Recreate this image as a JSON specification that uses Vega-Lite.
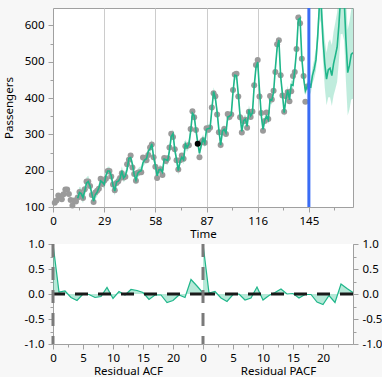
{
  "$schema": "https://vega.github.io/schema/vega-lite/v6.json",
  "background": "#f7f7f7",
  "padding": {"left": 2, "top": 6, "right": 0, "bottom": 0},
  "config": {
    "font": "Noto Sans",
    "view": {"stroke": null},
    "axis": {
      "labelFont": "Noto Sans", "labelFontSize": 11.5, "labelColor": "#000000",
      "titleFont": "Noto Sans", "titleFontSize": 11.5, "titleFontWeight": "normal", "titleColor": "#000000",
      "domainColor": "#a0a0a0", "tickColor": "#a0a0a0", "grid": false,
      "labelOverlap": false, "labelFlush": false
    }
  },
  "datasets": {
    "obs": [
      {"t":1,"y":112},{"t":2,"y":118},{"t":3,"y":132},{"t":4,"y":129},{"t":5,"y":121},{"t":6,"y":135},{"t":7,"y":148},{"t":8,"y":148},{"t":9,"y":136},{"t":10,"y":119},{"t":11,"y":104},{"t":12,"y":118},
      {"t":13,"y":115},{"t":14,"y":126},{"t":15,"y":141},{"t":16,"y":135},{"t":17,"y":125},{"t":18,"y":149},{"t":19,"y":170},{"t":20,"y":170},{"t":21,"y":158},{"t":22,"y":133},{"t":23,"y":114},{"t":24,"y":140},
      {"t":25,"y":145},{"t":26,"y":150},{"t":27,"y":178},{"t":28,"y":163},{"t":29,"y":172},{"t":30,"y":178},{"t":31,"y":199},{"t":32,"y":199},{"t":33,"y":184},{"t":34,"y":162},{"t":35,"y":146},{"t":36,"y":166},
      {"t":37,"y":171},{"t":38,"y":180},{"t":39,"y":193},{"t":40,"y":181},{"t":41,"y":183},{"t":42,"y":218},{"t":43,"y":230},{"t":44,"y":242},{"t":45,"y":209},{"t":46,"y":191},{"t":47,"y":172},{"t":48,"y":194},
      {"t":49,"y":196},{"t":50,"y":196},{"t":51,"y":236},{"t":52,"y":235},{"t":53,"y":229},{"t":54,"y":243},{"t":55,"y":264},{"t":56,"y":272},{"t":57,"y":237},{"t":58,"y":211},{"t":59,"y":180},{"t":60,"y":201},
      {"t":61,"y":204},{"t":62,"y":188},{"t":63,"y":235},{"t":64,"y":227},{"t":65,"y":234},{"t":66,"y":264},{"t":67,"y":302},{"t":68,"y":293},{"t":69,"y":259},{"t":70,"y":229},{"t":71,"y":203},{"t":72,"y":229},
      {"t":73,"y":242},{"t":74,"y":233},{"t":75,"y":267},{"t":76,"y":269},{"t":77,"y":270},{"t":78,"y":315},{"t":79,"y":364},{"t":80,"y":347},{"t":81,"y":312},{"t":83,"y":237},{"t":84,"y":278},
      {"t":85,"y":284},{"t":86,"y":277},{"t":87,"y":317},{"t":88,"y":313},{"t":89,"y":318},{"t":90,"y":374},{"t":91,"y":413},{"t":92,"y":405},{"t":93,"y":355},{"t":94,"y":306},{"t":95,"y":271},{"t":96,"y":306},
      {"t":97,"y":315},{"t":98,"y":301},{"t":99,"y":356},{"t":100,"y":348},{"t":101,"y":355},{"t":102,"y":422},{"t":103,"y":465},{"t":104,"y":467},{"t":105,"y":404},{"t":106,"y":347},{"t":107,"y":305},{"t":108,"y":336},
      {"t":109,"y":340},{"t":110,"y":318},{"t":111,"y":362},{"t":112,"y":348},{"t":113,"y":363},{"t":114,"y":435},{"t":115,"y":491},{"t":116,"y":505},{"t":117,"y":404},{"t":118,"y":359},{"t":119,"y":310},{"t":120,"y":337},
      {"t":121,"y":360},{"t":122,"y":342},{"t":123,"y":406},{"t":124,"y":396},{"t":125,"y":420},{"t":126,"y":472},{"t":127,"y":548},{"t":128,"y":559},{"t":129,"y":463},{"t":130,"y":407},{"t":131,"y":362},{"t":132,"y":405},
      {"t":133,"y":417},{"t":134,"y":391},{"t":135,"y":419},{"t":136,"y":461},{"t":137,"y":472},{"t":138,"y":535},{"t":139,"y":622},{"t":140,"y":606},{"t":141,"y":508},{"t":142,"y":461},{"t":143,"y":390},{"t":144,"y":432}
    ],
    "hl": [{"t":82,"y":274}],
    "fit": [
      {"t":14,"f":124,"lo":108,"hi":140},{"t":15,"f":140,"lo":124,"hi":156},{"t":16,"f":137,"lo":121,"hi":153},{"t":17,"f":126,"lo":110,"hi":142},{"t":18,"f":144,"lo":128,"hi":160},{"t":19,"f":166,"lo":150,"hi":182},{"t":20,"f":170,"lo":154,"hi":186},
      {"t":21,"f":158,"lo":146,"hi":170},{"t":22,"f":137,"lo":125,"hi":149},{"t":23,"f":116,"lo":104,"hi":128},{"t":24,"f":134,"lo":122,"hi":146},{"t":25,"f":141,"lo":129,"hi":153},{"t":26,"f":153,"lo":141,"hi":165},
      {"t":27,"f":172,"lo":160,"hi":184},{"t":28,"f":168,"lo":156,"hi":180},{"t":29,"f":162,"lo":150,"hi":174},{"t":30,"f":187,"lo":175,"hi":199},{"t":31,"f":199,"lo":187,"hi":211},{"t":32,"f":199,"lo":187,"hi":211},
      {"t":33,"f":186,"lo":174,"hi":198},{"t":34,"f":160,"lo":148,"hi":172},{"t":35,"f":144,"lo":132,"hi":156},{"t":36,"f":169,"lo":157,"hi":181},{"t":37,"f":171,"lo":159,"hi":183},{"t":38,"f":178,"lo":166,"hi":190},
      {"t":39,"f":200,"lo":188,"hi":212},{"t":40,"f":180,"lo":168,"hi":192},{"t":41,"f":186,"lo":174,"hi":198},{"t":42,"f":204,"lo":192,"hi":216},{"t":43,"f":234,"lo":222,"hi":246},{"t":44,"f":236,"lo":224,"hi":248},
      {"t":45,"f":218,"lo":206,"hi":230},{"t":46,"f":189,"lo":177,"hi":201},{"t":47,"f":174,"lo":162,"hi":186},{"t":48,"f":193,"lo":181,"hi":205},{"t":49,"f":198,"lo":186,"hi":210},{"t":50,"f":200,"lo":188,"hi":212},
      {"t":51,"f":222,"lo":210,"hi":234},{"t":52,"f":230,"lo":218,"hi":242},{"t":53,"f":233,"lo":221,"hi":245},{"t":54,"f":254,"lo":242,"hi":266},{"t":55,"f":260,"lo":248,"hi":272},{"t":56,"f":274,"lo":262,"hi":286},
      {"t":57,"f":238,"lo":226,"hi":250},{"t":58,"f":215,"lo":203,"hi":227},{"t":59,"f":186,"lo":174,"hi":198},{"t":60,"f":202,"lo":190,"hi":214},{"t":61,"f":204,"lo":192,"hi":216},{"t":62,"f":196,"lo":184,"hi":208},
      {"t":63,"f":232,"lo":220,"hi":244},{"t":64,"f":230,"lo":218,"hi":242},{"t":65,"f":228,"lo":216,"hi":240},{"t":66,"f":256,"lo":244,"hi":268},{"t":67,"f":294,"lo":282,"hi":306},{"t":68,"f":302,"lo":290,"hi":314},
      {"t":69,"f":258,"lo":246,"hi":270},{"t":70,"f":231,"lo":219,"hi":243},{"t":71,"f":200,"lo":188,"hi":212},{"t":72,"f":226,"lo":214,"hi":238},{"t":73,"f":237,"lo":225,"hi":249},{"t":74,"f":230,"lo":218,"hi":242},
      {"t":75,"f":274,"lo":262,"hi":286},{"t":76,"f":264,"lo":252,"hi":276},{"t":77,"f":273,"lo":261,"hi":285},{"t":78,"f":308,"lo":296,"hi":320},{"t":79,"f":358,"lo":346,"hi":370},{"t":80,"f":351,"lo":339,"hi":363},
      {"t":81,"f":312,"lo":300,"hi":324},{"t":82,"f":278,"lo":266,"hi":290},{"t":83,"f":248,"lo":236,"hi":260},{"t":84,"f":270,"lo":258,"hi":282},{"t":85,"f":288,"lo":276,"hi":300},{"t":86,"f":276,"lo":264,"hi":288},
      {"t":87,"f":314,"lo":302,"hi":326},{"t":88,"f":316,"lo":304,"hi":328},{"t":89,"f":316,"lo":304,"hi":328},{"t":90,"f":368,"lo":356,"hi":380},{"t":91,"f":418,"lo":406,"hi":430},{"t":92,"f":400,"lo":388,"hi":412},
      {"t":93,"f":362,"lo":350,"hi":374},{"t":94,"f":312,"lo":300,"hi":324},{"t":95,"f":270,"lo":258,"hi":282},{"t":96,"f":309,"lo":297,"hi":321},{"t":97,"f":314,"lo":302,"hi":326},{"t":98,"f":304,"lo":292,"hi":316},
      {"t":99,"f":348,"lo":336,"hi":360},{"t":100,"f":350,"lo":338,"hi":362},{"t":101,"f":354,"lo":342,"hi":366},{"t":102,"f":416,"lo":404,"hi":428},{"t":103,"f":463,"lo":451,"hi":475},{"t":104,"f":462,"lo":450,"hi":474},
      {"t":105,"f":410,"lo":398,"hi":422},{"t":106,"f":351,"lo":339,"hi":363},{"t":107,"f":308,"lo":296,"hi":320},{"t":108,"f":338,"lo":326,"hi":350},{"t":109,"f":342,"lo":330,"hi":354},{"t":110,"f":322,"lo":310,"hi":334},
      {"t":111,"f":368,"lo":356,"hi":380},{"t":112,"f":351,"lo":339,"hi":363},{"t":113,"f":359,"lo":347,"hi":371},{"t":114,"f":432,"lo":420,"hi":444},{"t":115,"f":484,"lo":472,"hi":496},{"t":116,"f":499,"lo":487,"hi":511},
      {"t":117,"f":423,"lo":411,"hi":435},{"t":118,"f":353,"lo":341,"hi":365},{"t":119,"f":314,"lo":302,"hi":326},{"t":120,"f":339,"lo":327,"hi":351},{"t":121,"f":350,"lo":338,"hi":362},{"t":122,"f":340,"lo":328,"hi":352},
      {"t":123,"f":396,"lo":384,"hi":408},{"t":124,"f":394,"lo":382,"hi":406},{"t":125,"f":416,"lo":404,"hi":428},{"t":126,"f":482,"lo":470,"hi":494},{"t":127,"f":538,"lo":526,"hi":550},{"t":128,"f":560,"lo":548,"hi":572},
      {"t":129,"f":460,"lo":448,"hi":472},{"t":130,"f":412,"lo":400,"hi":424},{"t":131,"f":360,"lo":348,"hi":372},{"t":132,"f":397,"lo":385,"hi":409},{"t":133,"f":422,"lo":410,"hi":434},{"t":134,"f":395,"lo":383,"hi":407},
      {"t":135,"f":437,"lo":425,"hi":449},{"t":136,"f":435,"lo":423,"hi":447},{"t":137,"f":478,"lo":466,"hi":490},{"t":138,"f":530,"lo":518,"hi":542},{"t":139,"f":616,"lo":604,"hi":628},{"t":140,"f":620,"lo":608,"hi":632},
      {"t":141,"f":509,"lo":497,"hi":521},{"t":142,"f":456,"lo":444,"hi":468},{"t":143,"f":420,"lo":408,"hi":432},{"t":144,"f":432,"lo":420,"hi":444},
      {"t":145,"f":445,"lo":431,"hi":459},{"t":146,"f":428,"lo":410,"hi":446},{"t":147,"f":462,"lo":440,"hi":484},{"t":148,"f":480,"lo":454,"hi":506},{"t":149,"f":505,"lo":475,"hi":535},{"t":150,"f":570,"lo":534,"hi":606},
      {"t":151,"f":660,"lo":618,"hi":702},{"t":152,"f":655,"lo":605,"hi":705},{"t":153,"f":560,"lo":502,"hi":618},{"t":154,"f":495,"lo":429,"hi":561},{"t":155,"f":452,"lo":380,"hi":524},{"t":156,"f":478,"lo":402,"hi":554},
      {"t":157,"f":482,"lo":402,"hi":562},{"t":158,"f":462,"lo":378,"hi":546},{"t":159,"f":495,"lo":407,"hi":583},{"t":160,"f":517,"lo":425,"hi":609},{"t":161,"f":540,"lo":444,"hi":636},{"t":162,"f":600,"lo":500,"hi":700},
      {"t":163,"f":680,"lo":576,"hi":784},{"t":164,"f":685,"lo":577,"hi":793},{"t":165,"f":670,"lo":558,"hi":782},{"t":166,"f":560,"lo":445,"hi":675},{"t":167,"f":470,"lo":352,"hi":588},{"t":168,"f":490,"lo":369,"hi":611},
      {"t":169,"f":520,"lo":396,"hi":644},{"t":170,"f":525,"lo":398,"hi":652}
    ],
    "acf": [
      {"lag":0,"v":1.0},{"lag":1,"v":0.04},{"lag":2,"v":0.06},{"lag":3,"v":-0.07},{"lag":4,"v":-0.13},{"lag":5,"v":0.0},{"lag":6,"v":-0.01},{"lag":7,"v":-0.07},{"lag":8,"v":-0.05},{"lag":9,"v":0.13},{"lag":10,"v":-0.09},{"lag":11,"v":0.05},{"lag":12,"v":-0.02},
      {"lag":13,"v":0.09},{"lag":14,"v":0.07},{"lag":15,"v":0.03},{"lag":16,"v":-0.11},{"lag":17,"v":-0.02},{"lag":18,"v":-0.02},{"lag":19,"v":-0.17},{"lag":20,"v":-0.13},{"lag":21,"v":-0.02},{"lag":22,"v":-0.07},{"lag":23,"v":0.29},{"lag":24,"v":0.16},{"lag":25,"v":0.02}
    ],
    "pacf": [
      {"lag":0,"v":1.0},{"lag":1,"v":0.02},{"lag":2,"v":0.05},{"lag":3,"v":-0.08},{"lag":4,"v":-0.15},{"lag":5,"v":-0.01},{"lag":6,"v":0.0},{"lag":7,"v":-0.12},{"lag":8,"v":-0.08},{"lag":9,"v":0.14},{"lag":10,"v":-0.12},{"lag":11,"v":-0.03},{"lag":12,"v":0.03},
      {"lag":13,"v":0.10},{"lag":14,"v":0.0},{"lag":15,"v":0.01},{"lag":16,"v":-0.08},{"lag":17,"v":-0.01},{"lag":18,"v":-0.01},{"lag":19,"v":-0.16},{"lag":20,"v":-0.21},{"lag":21,"v":-0.03},{"lag":22,"v":-0.17},{"lag":23,"v":0.20},{"lag":24,"v":0.11},{"lag":25,"v":0.03}
    ],
    "zero": [{"z":0}],
    "origin": [{"t":145}]
  },
  "spacing": 37,
  "bounds": "flush",
  "vconcat": [
    {
      "width": 300,
      "height": 199,
      "view": {"fill": "#ffffff", "stroke": "#a0a0a0"},
      "resolve": {"axis": {"y": "independent"}},
      "encoding": {
        "x": {"field": "t", "type": "quantitative",
          "scale": {"domain": [0, 170], "nice": false, "zero": false},
          "axis": {
            "title": "Time", "domain": false, "labelOverlap": false,
            "values": [0, 14.5, 29, 43.5, 58, 72.5, 87, 101.5, 116, 130.5, 145, 159.5],
            "labelExpr": "datum.value % 29 === 0 ? format(datum.value, 'd') : ''",
            "tickSize": {"condition": {"test": "datum.value % 29 === 0", "value": 5}, "value": 3},
            "grid": true, "gridColor": "#cccccc",
            "gridOpacity": {"condition": {"test": "datum.value % 29 === 0 && datum.value > 0 && datum.value < 145", "value": 1}, "value": 0},
            "labelPadding": 3, "titlePadding": 2
          }
        }
      },
      "layer": [
        {
          "data": {"name": "fit"},
          "mark": {"type": "area", "color": "#2dbf8f", "opacity": 0.3, "clip": true},
          "encoding": {
            "y": {"field": "lo", "type": "quantitative",
              "scale": {"domain": [100, 648], "nice": false, "zero": false},
              "axis": {
                "title": "Passengers", "domain": false, "labelOverlap": false, "orient": "left",
                "values": [100, 200, 300, 400, 500, 600],
                "tickSize": 5,
                "labelPadding": 4, "titleX": -41, "titleBaseline": "alphabetic"
              }
            },
            "y2": {"field": "hi"}
          }
        },
        {
          "data": {"name": "obs"},
          "mark": {"type": "circle", "color": "#9a9a9a", "opacity": 1, "size": 36},
          "encoding": {"y": {"field": "y", "type": "quantitative",
            "axis": {"orient": "left", "title": null, "labels": false, "domain": false, "tickSize": 3,
              "values": [150, 250, 350, 450, 550]}}}
        },
        {
          "data": {"name": "fit"},
          "mark": {"type": "line", "color": "#1fb68a", "strokeWidth": 1.6, "clip": true},
          "encoding": {"y": {"field": "f", "type": "quantitative", "axis": null}}
        },
        {
          "data": {"name": "hl"},
          "mark": {"type": "circle", "color": "#000000", "opacity": 1, "size": 36},
          "encoding": {"y": {"field": "y", "type": "quantitative", "axis": null}}
        },
        {
          "data": {"name": "origin"},
          "mark": {"type": "rule", "color": "#3a6cf5", "strokeWidth": 3},
          "encoding": {}
        }
      ]
    },
    {
      "spacing": 0,
      "bounds": "flush",
      "hconcat": [
        {
          "width": 150,
          "height": 100,
          "view": {"fill": "#ffffff", "stroke": null},
          "resolve": {"axis": {"y": "independent"}},
          "encoding": {
            "x": {"field": "lag", "type": "quantitative",
              "scale": {"domain": [0, 25], "nice": false, "zero": false},
              "axis": {
                "title": "Residual ACF", "labelOverlap": false,
                "values": [0, 2.5, 5, 7.5, 10, 12.5, 15, 17.5, 20, 22.5],
                "labelExpr": "datum.value % 5 === 0 ? format(datum.value, 'd') : ''",
                "tickSize": {"condition": {"test": "datum.value % 5 === 0", "value": 5}, "value": 3},
                "labelPadding": 3, "titlePadding": 2
              }
            }
          },
          "layer": [
            {
              "data": {"name": "acf"},
              "mark": {"type": "area", "color": "#2dbf8f", "opacity": 0.35},
              "encoding": {
                "y": {"field": "v", "type": "quantitative",
                  "scale": {"domain": [-1, 1], "nice": false, "zero": false},
                  "axis": {
                    "title": null, "orient": "left", "labelOverlap": false,
                    "values": [-1, -0.5, 0, 0.5, 1],
                    "labelExpr": "replace(format(datum.value, '.1f'), '\u2212', '-')",
                    "tickSize": 5, "labelPadding": 4
                  }
                },
                "y2": {"datum": 0}
              }
            },
            {
              "data": {"name": "acf"},
              "mark": {"type": "line", "color": "#1fb68a", "strokeWidth": 1.2},
              "encoding": {"y": {"field": "v", "type": "quantitative",
                "axis": {"orient": "left", "title": null, "labels": false, "tickSize": 3, "values": [-0.75, -0.25, 0.25, 0.75]}}}
            },
            {
              "data": {"name": "zero"},
              "mark": {"type": "rule", "color": "#1a1a1a", "strokeWidth": 3, "strokeDash": [13, 10]},
              "encoding": {"x": null, "y": {"field": "z", "type": "quantitative", "axis": null}}
            },
            {
              "data": {"name": "zero"},
              "mark": {"type": "rule", "color": "#7a7a7a", "strokeWidth": 3, "strokeDash": [13, 10]},
              "encoding": {"x": {"field": "z", "type": "quantitative"}}
            }
          ]
        },
        {
          "width": 150,
          "height": 100,
          "view": {"fill": "#ffffff", "stroke": null},
          "resolve": {"axis": {"y": "independent"}},
          "encoding": {
            "x": {"field": "lag", "type": "quantitative",
              "scale": {"domain": [0, 25], "nice": false, "zero": false},
              "axis": {
                "title": "Residual PACF", "labelOverlap": false,
                "values": [0, 2.5, 5, 7.5, 10, 12.5, 15, 17.5, 20, 22.5],
                "labelExpr": "datum.value % 5 === 0 ? format(datum.value, 'd') : ''",
                "tickSize": {"condition": {"test": "datum.value % 5 === 0", "value": 5}, "value": 3},
                "labelPadding": 3, "titlePadding": 2
              }
            }
          },
          "layer": [
            {
              "data": {"name": "pacf"},
              "mark": {"type": "area", "color": "#2dbf8f", "opacity": 0.35},
              "encoding": {
                "y": {"field": "v", "type": "quantitative",
                  "scale": {"domain": [-1, 1], "nice": false, "zero": false},
                  "axis": {
                    "title": null, "orient": "right", "labelOverlap": false,
                    "values": [-1, -0.5, 0, 0.5, 1],
                    "labelExpr": "replace(format(datum.value, '.1f'), '\u2212', '-')",
                    "tickSize": 5, "labelPadding": 4
                  }
                },
                "y2": {"datum": 0}
              }
            },
            {
              "data": {"name": "pacf"},
              "mark": {"type": "line", "color": "#1fb68a", "strokeWidth": 1.2},
              "encoding": {"y": {"field": "v", "type": "quantitative",
                "axis": {"orient": "right", "title": null, "labels": false, "tickSize": 3, "values": [-0.75, -0.25, 0.25, 0.75]}}}
            },
            {
              "data": {"name": "zero"},
              "mark": {"type": "rule", "color": "#1a1a1a", "strokeWidth": 3, "strokeDash": [13, 10]},
              "encoding": {"x": null, "y": {"field": "z", "type": "quantitative", "axis": null}}
            },
            {
              "data": {"name": "zero"},
              "mark": {"type": "rule", "color": "#7a7a7a", "strokeWidth": 3, "strokeDash": [13, 10]},
              "encoding": {"x": {"field": "z", "type": "quantitative"}}
            }
          ]
        }
      ]
    }
  ]
}
